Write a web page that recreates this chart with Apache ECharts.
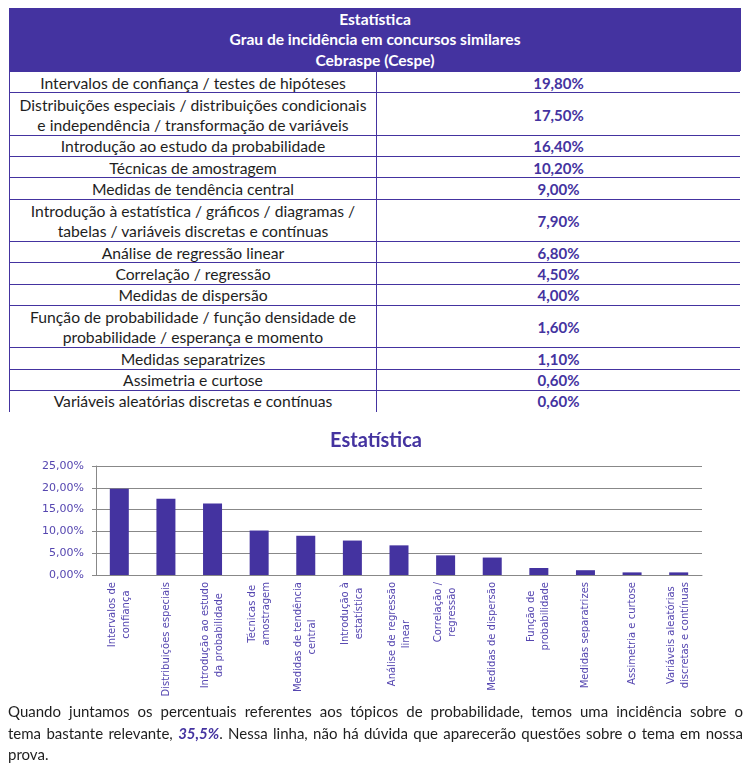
<!DOCTYPE html>
<html><head><meta charset="utf-8">
<script src="https://cdn.jsdelivr.net/npm/echarts@6/dist/echarts.min.js"></script>
<style>
html,body{margin:0;padding:0;background:#fff;}
body{width:752px;height:768px;overflow:hidden;position:relative;font-family:Lato,"Liberation Sans",sans-serif;color:#1e1e1e;}
#header{position:absolute;left:9px;top:8px;width:732px;height:63px;background:#4433A0;color:#fff;font-weight:bold;font-size:15.6px;line-height:20.5px;text-align:center;display:flex;flex-direction:column;justify-content:center;}
.row{position:absolute;left:9px;width:731px;border-top:1px solid #4433A0;border-left:1px solid #4433A0;box-sizing:border-box;display:flex;}
.c1{width:367px;border-right:1px solid #4433A0;box-sizing:border-box;display:flex;align-items:center;justify-content:center;text-align:center;font-size:15.7px;line-height:20px;}
.c2{flex:1;display:flex;align-items:center;justify-content:center;font-weight:bold;color:#4433A0;font-size:15px;}
#para{position:absolute;left:8px;top:701px;width:735px;font-size:15px;line-height:21.5px;color:#1e1e1e;z-index:2;}
.j{text-align:justify;text-align-last:justify;}
#chart{position:absolute;left:0;top:420px;width:752px;height:348px;z-index:1;}
</style></head><body>
<div id="header"><div>Estatística</div><div>Grau de incidência em concursos similares</div><div>Cebraspe (Cespe)</div></div>
<div id="rows"></div>
<div id="chart"></div>
<div id="para">
<div class="j">Quando juntamos os percentuais referentes aos tópicos de probabilidade, temos uma incidência sobre o</div>
<div class="j">tema bastante relevante, <b><i style="color:#4433A0">35,5%</i></b>. Nessa linha, não há dúvida que aparecerão questões sobre o tema em nossa</div>
<div>prova.</div>
</div>
<script>
// ---- data ----
const tableTopics = [
  "Intervalos de confiança / testes de hipóteses",
  "Distribuições especiais / distribuições condicionais\ne independência / transformação de variáveis",
  "Introdução ao estudo da probabilidade",
  "Técnicas de amostragem",
  "Medidas de tendência central",
  "Introdução à estatística / gráficos / diagramas /\ntabelas / variáveis discretas e contínuas",
  "Análise de regressão linear",
  "Correlação / regressão",
  "Medidas de dispersão",
  "Função de probabilidade / função densidade de\nprobabilidade / esperança e momento",
  "Medidas separatrizes",
  "Assimetria e curtose",
  "Variáveis aleatórias discretas e contínuas"
];
const chartCategories = [
  "Intervalos de\nconfiança",
  "Distribuições especiais",
  "Introdução ao estudo\nda probabilidade",
  "Técnicas de\namostragem",
  "Medidas de tendência\ncentral",
  "Introdução à\nestatística",
  "Análise de regressão\nlinear",
  "Correlação /\nregressão",
  "Medidas de dispersão",
  "Função de\nprobabilidade",
  "Medidas separatrizes",
  "Assimetria e curtose",
  "Variáveis aleatórias\ndiscretas e contínuas"
];
const incidence = [19.8, 17.5, 16.4, 10.2, 9.0, 7.9, 6.8, 4.5, 4.0, 1.6, 1.1, 0.6, 0.6];
const yTicks = [0, 5, 10, 15, 20, 25];

const fmtPct = v => v.toFixed(2).replace('.', ',') + '%';

// ---- table ----
const rowsEl = document.getElementById('rows');
const unit = 21.25;
let y = 71;
tableTopics.forEach((t, i) => {
  const lines = t.split('\n');
  const h = unit * lines.length;
  const r = document.createElement('div');
  r.className = 'row';
  r.style.top = y + 'px';
  r.style.height = (h + 1) + 'px';
  const c1 = document.createElement('div');
  c1.className = 'c1';
  c1.innerHTML = lines.join('<br>');
  const c2 = document.createElement('div');
  c2.className = 'c2';
  c2.textContent = fmtPct(incidence[i]);
  r.appendChild(c1); r.appendChild(c2);
  rowsEl.appendChild(r);
  y += h;
});

// ---- chart ----
const purple = '#4433A0';
const labelColor = '#5546B0';
const rich = {};
chartCategories.forEach((c, i) => {
  rich['c' + i] = {align: 'center', fontFamily: 'DejaVu Sans', fontSize: 10, color: labelColor, lineHeight: 14};
});
const chart = echarts.init(document.getElementById('chart'), null, {renderer: 'canvas'});
chart.setOption({
  animation: false,
  title: {
    text: 'Estatística', left: 'center', top: 6,
    textStyle: {fontFamily: 'Lato', fontWeight: 'bold', fontSize: 20, color: purple}
  },
  grid: {left: 96, right: 50, top: 46, bottom: 193, containLabel: false, outerBoundsMode: 'none'},
  xAxis: {
    type: 'category', data: chartCategories,
    axisLine: {lineStyle: {color: '#888', width: 1}},
    axisTick: {length: 4, lineStyle: {color: '#888'}},
    axisLabel: {
      interval: 0, rotate: 90, margin: 7,
      formatter: (v, i) => v.split('\n').map(l => '{c' + i + '|' + l + '}').join('\n'),
      rich: rich
    }
  },
  yAxis: {
    type: 'value', min: yTicks[0], max: yTicks[yTicks.length - 1], interval: 5,
    axisLine: {show: true, lineStyle: {color: '#888'}},
    axisTick: {show: true, length: 4, lineStyle: {color: '#888'}},
    splitLine: {lineStyle: {color: '#888', width: 1}},
    axisLabel: {formatter: v => fmtPct(v), color: labelColor, fontFamily: 'DejaVu Sans', fontSize: 11, margin: 12}
  },
  series: [{type: 'bar', data: incidence, barWidth: 19, itemStyle: {color: purple}}]
});
</script>
</body></html>
